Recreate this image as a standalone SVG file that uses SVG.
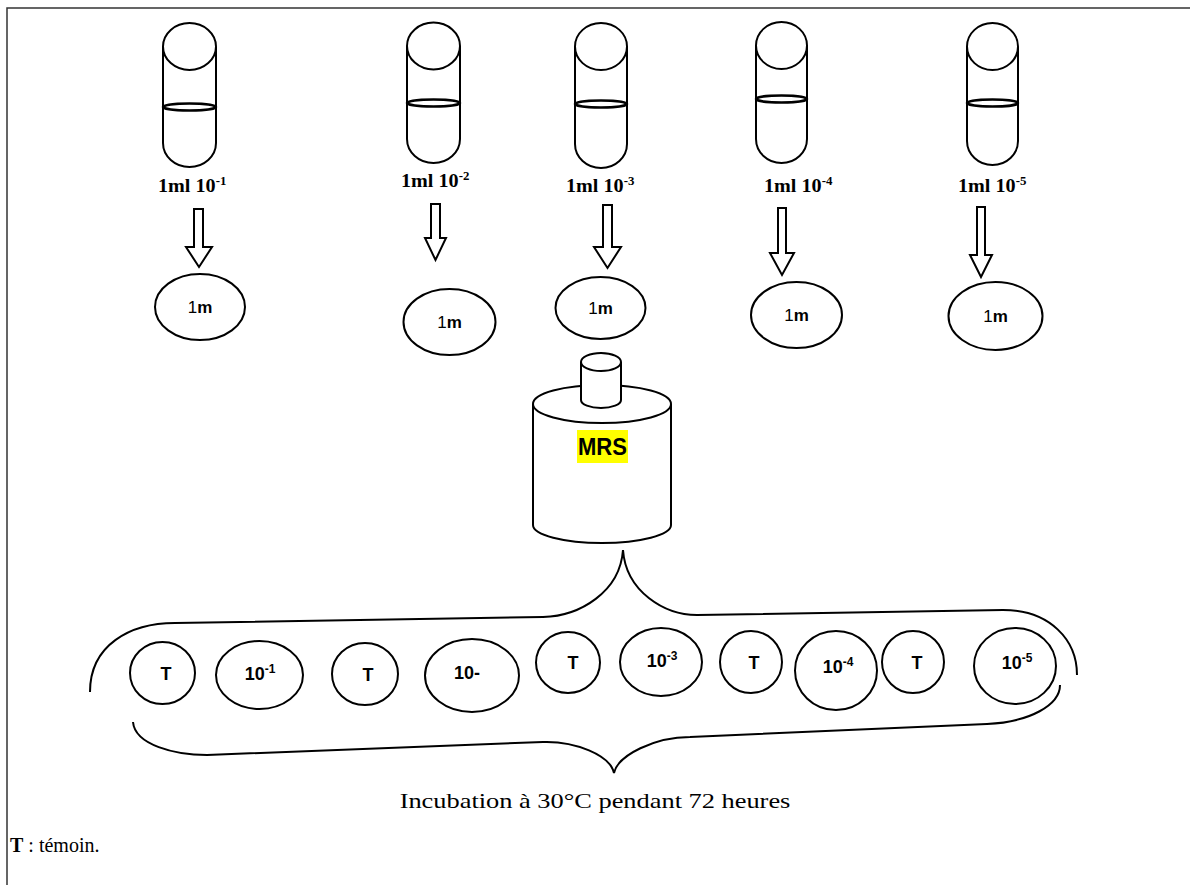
<svg xmlns="http://www.w3.org/2000/svg" width="1190" height="885" viewBox="0 0 1190 885">
<style>
.s{fill:none;stroke:#000;stroke-width:2}
.w{fill:#fff;stroke:#000;stroke-width:2}
.m{fill:none;stroke:#000;stroke-width:2.6}
.lab{font-family:"Liberation Serif","Times New Roman",serif;font-weight:bold;font-size:18px;fill:#000}
.sans{font-family:"Liberation Sans",Arial,sans-serif;fill:#000}
.serif{font-family:"Liberation Serif","Times New Roman",serif;fill:#000}
.wt{font-family:"Liberation Sans",Arial,sans-serif;fill:#000;font-size:18px;font-weight:bold;text-anchor:middle}
</style>
<rect width="1190" height="885" fill="#fff"/>
<path d="M7 885 V8 H1190" fill="none" stroke="#333" stroke-width="1.5"/>

<g id="tube1">
<path class="s" d="M163 47 V143 A26.5 24 0 0 0 216 143 V47"/>
<ellipse class="s" cx="189.5" cy="46.5" rx="26.5" ry="23.5"/>
<ellipse class="m" cx="189.5" cy="107" rx="26.5" ry="3.5"/>
<text class="lab" transform="translate(158 192) scale(1.12 1)">1ml 10<tspan font-size="11.5" dy="-7">-1</tspan></text>
</g>
<g id="tube2">
<path class="s" d="M407 46 V139 A26.5 24 0 0 0 460 139 V46"/>
<ellipse class="s" cx="433.5" cy="46" rx="26.5" ry="23.5"/>
<ellipse class="m" cx="433.5" cy="103" rx="26.5" ry="3.5"/>
<text class="lab" transform="translate(401 187) scale(1.12 1)">1ml 10<tspan font-size="11.5" dy="-7">-2</tspan></text>
</g>
<g id="tube3">
<path class="s" d="M575 47 V144 A26 24 0 0 0 627 144 V47"/>
<ellipse class="s" cx="601" cy="46.5" rx="26" ry="23.5"/>
<ellipse class="m" cx="601" cy="104" rx="26" ry="3.5"/>
<text class="lab" transform="translate(566 192) scale(1.12 1)">1ml 10<tspan font-size="11.5" dy="-7">-3</tspan></text>
</g>
<g id="tube4">
<path class="s" d="M756 45 V139 A25.5 24 0 0 0 807 139 V45"/>
<ellipse class="s" cx="781.5" cy="45.5" rx="25.5" ry="23.5"/>
<ellipse class="m" cx="781.5" cy="99" rx="25.5" ry="3.5"/>
<text class="lab" transform="translate(764 192) scale(1.12 1)">1ml 10<tspan font-size="11.5" dy="-7">-4</tspan></text>
</g>
<g id="tube5">
<path class="s" d="M967 47 V141 A25.5 24 0 0 0 1018 141 V47"/>
<ellipse class="s" cx="992.5" cy="46.5" rx="25.5" ry="23.5"/>
<ellipse class="m" cx="992.5" cy="103" rx="25.5" ry="3.5"/>
<text class="lab" transform="translate(958 192) scale(1.12 1)">1ml 10<tspan font-size="11.5" dy="-7">-5</tspan></text>
</g>

<g id="drop1"><ellipse class="s" cx="200" cy="307" rx="45" ry="33"/><text class="sans" x="200" y="313" font-size="17" text-anchor="middle">1<tspan font-weight="bold">m</tspan></text></g>
<g id="drop2"><ellipse class="s" cx="449.5" cy="322" rx="46" ry="33"/><text class="sans" x="449.5" y="328" font-size="17" text-anchor="middle">1<tspan font-weight="bold">m</tspan></text></g>
<g id="drop3"><ellipse class="s" cx="600.5" cy="308" rx="45" ry="31"/><text class="sans" x="600.5" y="314" font-size="17" text-anchor="middle">1<tspan font-weight="bold">m</tspan></text></g>
<g id="drop4"><ellipse class="s" cx="796.5" cy="315" rx="45.5" ry="33"/><text class="sans" x="796.5" y="321" font-size="17" text-anchor="middle">1<tspan font-weight="bold">m</tspan></text></g>
<g id="drop5"><ellipse class="s" cx="995.5" cy="316" rx="47" ry="34"/><text class="sans" x="995.5" y="322" font-size="17" text-anchor="middle">1<tspan font-weight="bold">m</tspan></text></g>

<g id="mrs">
<path class="w" d="M533 404 V525 A69 18 0 0 0 671 525 V404"/>
<ellipse class="w" cx="602" cy="404" rx="69" ry="19"/>
<path class="w" d="M581 362 V400 A20 8 0 0 0 621 400 V362"/>
<ellipse class="w" cx="601" cy="362" rx="20" ry="9"/>
<rect x="577" y="430" width="51" height="33" fill="#ffff00"/>
<text class="sans" x="602.5" y="455" font-size="23" font-weight="bold" text-anchor="middle" textLength="49" lengthAdjust="spacingAndGlyphs">MRS</text>
</g>

<g id="wells">
<g id="w1"><ellipse class="s" cx="162.5" cy="673" rx="32.5" ry="31"/><text class="wt" x="166" y="680">T</text></g>
<g id="w2"><ellipse class="s" cx="259.5" cy="675" rx="43.5" ry="34"/><text class="wt" x="260" y="680">10<tspan font-size="12" dy="-7">-1</tspan></text></g>
<g id="w3"><ellipse class="s" cx="365" cy="674" rx="33" ry="31"/><text class="wt" x="368" y="681">T</text></g>
<g id="w4"><ellipse class="s" cx="472" cy="675.5" rx="47" ry="36.5"/><text class="wt" x="467" y="679">10-</text></g>
<g id="w5"><ellipse class="s" cx="568" cy="662.5" rx="32" ry="30.5"/><text class="wt" x="573" y="669">T</text></g>
<g id="w6"><ellipse class="s" cx="661" cy="662" rx="41" ry="34"/><text class="wt" x="662" y="667">10<tspan font-size="12" dy="-7">-3</tspan></text></g>
<g id="w7"><ellipse class="s" cx="751" cy="662" rx="31" ry="31"/><text class="wt" x="754" y="669">T</text></g>
<g id="w8"><ellipse class="s" cx="836" cy="670.5" rx="41" ry="39.5"/><text class="wt" x="838" y="673">10<tspan font-size="12" dy="-7">-4</tspan></text></g>
<g id="w9"><ellipse class="s" cx="913" cy="662" rx="31" ry="31"/><text class="wt" x="917" y="669">T</text></g>
<g id="w10"><ellipse class="s" cx="1015" cy="666" rx="41" ry="38"/><text class="wt" x="1017" y="669">10<tspan font-size="12" dy="-7">-5</tspan></text></g>
</g>

<g id="connectors">
<path class="s" stroke-width="1.5" d="M194 209 H203 V247 H212 L199 267 L186 247 H194 Z"/>
<path class="s" stroke-width="1.5" d="M431 204 H440 V238 H446 L435.5 260 L425 238 H431 Z"/>
<path class="s" stroke-width="1.5" d="M603 205 H612 V247 H621 L607.5 268 L594 247 H603 Z"/>
<path class="s" stroke-width="1.5" d="M778 208 H786 V253 H794 L782 275 L770 253 H778 Z"/>
<path class="s" stroke-width="1.5" d="M977 207 H985 V255 H992 L981 277 L970 255 H977 Z"/>
<path class="s" d="M90 692 C90 645 130 623 175 623 L543 617 C580 616 620 592 623 550 C626 592 665 615 697 615 L1003 610 C1050 610 1077 640 1077 675"/>
<path class="s" d="M133 722 C135 745 175 755 207 755 L543 742 C575 741 610 755 614 773 C618 755 655 737 690 737 L987 724 C1030 722 1060 705 1060 685"/>
</g>

<text class="serif" font-size="22" transform="translate(595 808) scale(1.2 1)" text-anchor="middle">Incubation à 30°C pendant 72 heures</text>
<text class="serif" font-size="20" x="10" y="852"><tspan font-weight="bold">T</tspan> : témoin.</text>
</svg>
